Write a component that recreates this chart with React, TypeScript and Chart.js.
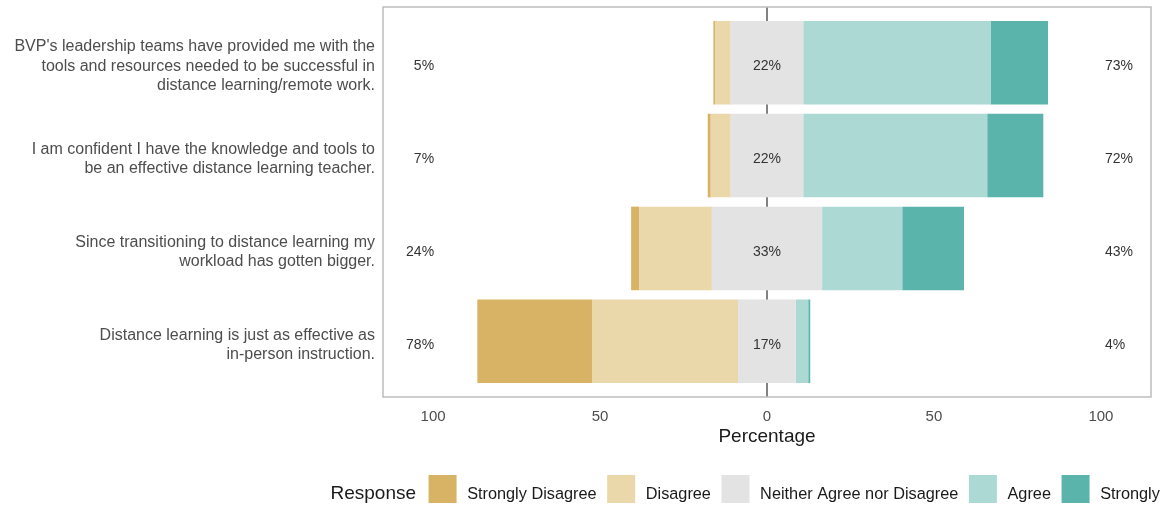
import React, { useEffect, useRef } from "react";
import { Chart, registerables } from "chart.js";

Chart.register(...registerables);

// ---------- data ----------
const questions: string[][] = [
  [
    "BVP's leadership teams have provided me with the",
    "tools and resources needed to be successful in",
    "distance learning/remote work.",
  ],
  ["I am confident I have the knowledge and tools to", "be an effective distance learning teacher."],
  ["Since transitioning to distance learning my", "workload has gotten bigger."],
  ["Distance learning is just as effective as", "in-person instruction."],
];
const responses = ["Strongly Disagree", "Disagree", "Neither Agree nor Disagree", "Agree", "Strongly Agree"];
const stronglyDisagree = [0.5, 0.9, 2.5, 34.5];
const disagree = [4.7, 6.0, 21.7, 43.6];
const neutral = [21.7, 21.7, 33.0, 17.3];
const agree = [56.1, 55.1, 24.0, 3.7];
const stronglyAgree = [17.2, 16.8, 18.5, 0.6];
const xTicks = [-100, -50, 0, 50, 100];
const xMin = -115;
const xMax = 115;

// ---------- style ----------
const colors = ["#D8B365", "#EAD8AB", "#E3E3E3", "#ADD9D5", "#5AB4AC"];
const FONT = "'Liberation Sans', Arial, Helvetica, sans-serif";

const overlayPlugin = {
  id: "overlay",
  afterDatasetsDraw(chart: any) {
    const { ctx, chartArea: a, scales } = chart;
    const xs = scales.x;
    const ys = scales.y;
    ctx.save();

    // zero line, visible only between bars
    const x0 = xs.getPixelForValue(0);
    const spans: number[][] = [];
    let prev = a.top;
    chart.getDatasetMeta(0).data.forEach((el: any) => {
      const { y, height } = el.getProps(["y", "height"], true);
      spans.push([prev, y - height / 2]);
      prev = y + height / 2;
    });
    spans.push([prev, a.bottom]);
    ctx.strokeStyle = "#4d4d4d";
    ctx.lineWidth = 1.4;
    spans.forEach(([s, e]) => {
      ctx.beginPath();
      ctx.moveTo(x0, s);
      ctx.lineTo(x0, e);
      ctx.stroke();
    });

    // panel border
    ctx.strokeStyle = "#bdbdbd";
    ctx.lineWidth = 1.5;
    ctx.strokeRect(a.left, a.top, a.right - a.left, a.bottom - a.top);

    // category (question) labels, right-aligned left of the panel
    ctx.font = `16px ${FONT}`;
    ctx.fillStyle = "#4d4d4d";
    ctx.textBaseline = "middle";
    ctx.textAlign = "right";
    const lh = 19.2;
    questions.forEach((lines, i) => {
      const cy = ys.getPixelForValue(i + 1) + 3.5;
      const y0 = cy - ((lines.length - 1) * lh) / 2;
      lines.forEach((ln, k) => ctx.fillText(ln, a.left - 8, y0 + k * lh));
    });

    // percentage labels
    ctx.font = `14px ${FONT}`;
    ctx.fillStyle = "#333333";
    questions.forEach((_, i) => {
      const py = ys.getPixelForValue(i + 1) + 3.5;
      const low = Math.round(stronglyDisagree[i] + disagree[i]);
      const mid = Math.round(neutral[i]);
      const high = Math.round(agree[i] + stronglyAgree[i]);
      ctx.textAlign = "right";
      ctx.fillText(`${low}%`, xs.getPixelForValue(-100) + 1, py);
      ctx.textAlign = "center";
      ctx.fillText(`${mid}%`, x0, py);
      ctx.textAlign = "left";
      ctx.fillText(`${high}%`, xs.getPixelForValue(100) + 4, py);
    });
    ctx.restore();
  },
  afterDraw(chart: any) {
    const { ctx } = chart;
    ctx.save();
    ctx.textBaseline = "alphabetic";
    ctx.textAlign = "left";
    ctx.fillStyle = "#1a1a1a";
    ctx.font = `19px ${FONT}`;
    const titleX = 330.5;
    const baseY = 499;
    ctx.fillText("Response", titleX, baseY);
    let lx = titleX + ctx.measureText("Response").width + 12.5;
    ctx.font = `16.3px ${FONT}`;
    const key = 28;
    const keyTop = 475;
    const gap = 10.6;
    responses.forEach((r, i) => {
      ctx.fillStyle = colors[i];
      ctx.fillRect(lx, keyTop, key, key);
      lx += key + gap;
      ctx.fillStyle = "#1a1a1a";
      ctx.fillText(r, lx, baseY);
      lx += ctx.measureText(r).width + gap;
    });
    ctx.restore();
  },
};

export default function App() {
  const ref = useRef<HTMLCanvasElement>(null);

  useEffect(() => {
    document.body.style.margin = "0";
    const canvas = ref.current;
    if (!canvas) return;
    const pos = (arr: number[], sign: number, half = false) =>
      arr.map((v, i) => ({ x: sign * (half ? v / 2 : v), y: i + 1 }));

    const mk = (label: string, data: any[], color: string) => ({
      label,
      data,
      backgroundColor: color,
      borderWidth: 0,
      barPercentage: 0.9,
      categoryPercentage: 1,
      stack: "s",
    });

    const chart = new Chart(canvas, {
      type: "bar",
      data: {
        datasets: [
          mk("Neither (low)", pos(neutral, -1, true), colors[2]),
          mk("Neither (high)", pos(neutral, 1, true), colors[2]),
          mk(responses[1], pos(disagree, -1), colors[1]),
          mk(responses[3], pos(agree, 1), colors[3]),
          mk(responses[0], pos(stronglyDisagree, -1), colors[0]),
          mk(responses[4], pos(stronglyAgree, 1), colors[4]),
        ] as any,
      },
      options: {
        indexAxis: "y",
        animation: false,
        responsive: false,
        events: [],
        layout: { padding: { top: 7, right: 13, bottom: 58, left: 0 } },
        plugins: {
          legend: { display: false },
          tooltip: { enabled: false },
        },
        scales: {
          x: {
            type: "linear",
            stacked: true,
            min: xMin,
            max: xMax,
            afterBuildTicks: (scale: any) => {
              scale.ticks = xTicks.map((v) => ({ value: v }));
            },
            afterFit: (scale: any) => {
              scale.height = 51;
              scale.paddingLeft = 0;
              scale.paddingRight = 0;
            },
            grid: { display: false, drawTicks: false },
            border: { display: false },
            ticks: {
              padding: 11,
              color: "#4d4d4d",
              font: { family: FONT, size: 15 },
              maxRotation: 0,
              callback: (v: any) => String(Math.abs(Number(v))),
            },
            title: {
              display: true,
              text: "Percentage",
              color: "#1a1a1a",
              font: { family: FONT, size: 19 },
              padding: { top: 0, bottom: 0 },
            },
          },
          y: {
            type: "linear",
            stacked: true,
            reverse: true,
            offset: false,
            min: 0.4,
            max: questions.length + 0.6,
            afterBuildTicks: (scale: any) => {
              scale.ticks = questions.map((_, i) => ({ value: i + 1 }));
            },
            afterFit: (scale: any) => {
              scale.width = 383;
              scale.paddingTop = 0;
              scale.paddingBottom = 0;
            },
            grid: { display: false, drawTicks: false, offset: false },
            border: { display: false },
            ticks: { display: false },
          },
        },
      } as any,
      plugins: [overlayPlugin],
    });
    return () => chart.destroy();
  }, []);

  return (
    <div style={{ width: 1164, height: 506, background: "#ffffff" }}>
      <canvas ref={ref} width={1164} height={506} style={{ display: "block" }} />
    </div>
  );
}
